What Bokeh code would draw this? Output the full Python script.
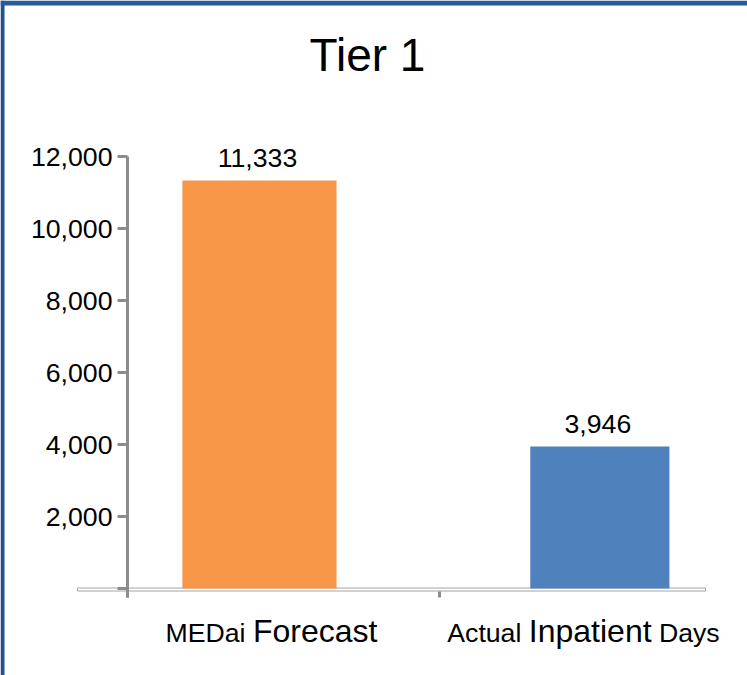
from bokeh.plotting import figure
from bokeh.models import (Range1d, LinearAxis, FixedTicker, NumeralTickFormatter,
                          ColumnDataSource)
from bokeh.core.properties import value
from bokeh.embed import file_html
from bokeh.resources import INLINE

# ---- data -------------------------------------------------------------
chart_title = "Tier 1"
categories = ["MEDai Forecast", "Actual Inpatient Days"]
days = [11333, 3946]
y_ticks = [2000, 4000, 6000, 8000, 10000, 12000]
emphasized_words = ["Forecast", "Inpatient"]

# ---- layout / style ---------------------------------------------------
W, H = 747, 675
X0_PX = 127          # screen x of the first category boundary
X_UNIT_PX = 312      # width of one category slot in pixels
Y0_PX = 588          # screen y of the zero line
PX_PER_DAY = 0.036   # vertical scale

FONT = "Liberation Sans"
GRAY = "#8c8c8c"
BAR_COLORS = ["#F79646", "#4F81BD"]
BAR_SHIFT = [-0.077, 0.014]     # bar offset inside its slot (slot units)
BAR_WIDTH = [0.494, 0.446]
SMALL = 26.67
LARGE = 32.0
TITLE_SIZE = 46.0
MID = 0.3465         # distance from baseline to the middle of the text box, in em

# advance widths (1/1000 em) of the sans face, used to lay out mixed-size labels
ADV = {" ": 278, "A": 667, "D": 722, "E": 667, "F": 611, "I": 278, "M": 833,
       "a": 556, "c": 500, "e": 556, "i": 222, "l": 222, "n": 556, "o": 556,
       "p": 556, "r": 333, "s": 500, "t": 278, "u": 556, "y": 500}


def text_width(s, size):
    return sum(ADV.get(c, 556) for c in s) * size / 1000.0


def x_at(px):
    return (px - X0_PX) / X_UNIT_PX


def y_at(px):
    return (Y0_PX - px) / PX_PER_DAY


def mid_for_baseline(baseline_px, size):
    """y of the text-box middle for text whose baseline sits at baseline_px."""
    return y_at(baseline_px - MID * size)


p = figure(width=W, height=H, output_backend="svg", toolbar_location=None,
           x_range=Range1d(x_at(0), x_at(W)), y_range=Range1d(y_at(H), y_at(0)),
           x_axis_type=None, y_axis_type=None, min_border=0,
           outline_line_color=None, background_fill_color="white",
           border_fill_color="white")

# frame strips along the top and left edges
p.quad(left=x_at(0), right=x_at(4), bottom=y_at(H), top=y_at(0),
       fill_color="#22518e", line_color=None)
p.quad(left=x_at(0), right=x_at(W), bottom=y_at(5), top=y_at(0),
       fill_color="#285b9a", line_color=None)

# floor of the plot area
p.quad(left=x_at(77), right=x_at(705), bottom=y_at(590.5), top=y_at(587.5),
       fill_color="white", line_color="#a3a3a3", line_width=1)

# tick marks between categories and the zero tick of the value axis
n = len(categories)
p.segment(x0=list(range(n + 1)), x1=list(range(n + 1)),
          y0=[y_at(591)] * (n + 1), y1=[y_at(597)] * (n + 1),
          line_color=GRAY, line_width=3)
p.segment(x0=[x_at(117)], x1=[0], y0=[0], y1=[0], line_color=GRAY, line_width=3)

# bars
centers = [i + 0.5 + s for i, s in enumerate(BAR_SHIFT)]
bars = ColumnDataSource(dict(
    x=centers, top=days, w=BAR_WIDTH, color=BAR_COLORS,
    label=[f"{v:,}" for v in days],
    label_y=[v + (13 + MID * SMALL) / PX_PER_DAY for v in days],
))
p.vbar(x="x", top="top", bottom=0, width="w", fill_color="color",
       line_color=None, source=bars)
p.text(x="x", y="label_y", text="label", source=bars, x_offset=-2,
       text_align="center", text_baseline="middle", text_font=value(FONT),
       text_font_size=f"{SMALL}px", text_color="black")

# value axis
yaxis = LinearAxis(fixed_location=0, bounds=(y_at(597), y_ticks[-1]),
                   ticker=FixedTicker(ticks=y_ticks),
                   formatter=NumeralTickFormatter(format="0,0"))
yaxis.axis_line_color = GRAY
yaxis.axis_line_width = 3
yaxis.major_tick_line_color = GRAY
yaxis.major_tick_line_width = 3
yaxis.major_tick_out = 10
yaxis.major_tick_in = 0
yaxis.minor_tick_line_color = None
yaxis.major_label_standoff = 5
yaxis.major_label_text_font = FONT
yaxis.major_label_text_font_size = f"{SMALL}px"
yaxis.major_label_text_color = "black"
p.add_layout(yaxis, "left")

# category labels with emphasized words set larger
space = text_width(" ", SMALL)
wx, woff, wtext, wsize, wy = [], [], [], [], []
for i, cat in enumerate(categories):
    words = cat.split()
    sizes = [LARGE if w in emphasized_words else SMALL for w in words]
    total = sum(text_width(w, s) for w, s in zip(words, sizes)) + space * (len(words) - 1)
    cursor = -total / 2 - 12
    for w, s in zip(words, sizes):
        wx.append(i + 0.5)
        woff.append(cursor)
        wtext.append(w)
        wsize.append(f"{s}px")
        wy.append(mid_for_baseline(642, s))
        cursor += text_width(w, s) + space
cat_src = ColumnDataSource(dict(x=wx, xoff=woff, text=wtext, size=wsize, y=wy))
p.text(x="x", y="y", x_offset="xoff", text="text", text_font_size="size",
       source=cat_src, text_align="left", text_baseline="middle",
       text_font=value(FONT), text_color="black")

# title
p.text(x=[x_at(367)], y=[mid_for_baseline(70, TITLE_SIZE)], text=[chart_title],
       text_align="center", text_baseline="middle", text_font=value(FONT),
       text_font_size=f"{TITLE_SIZE}px", text_color="black")

open("out.html", "w").write(file_html(p, INLINE))
